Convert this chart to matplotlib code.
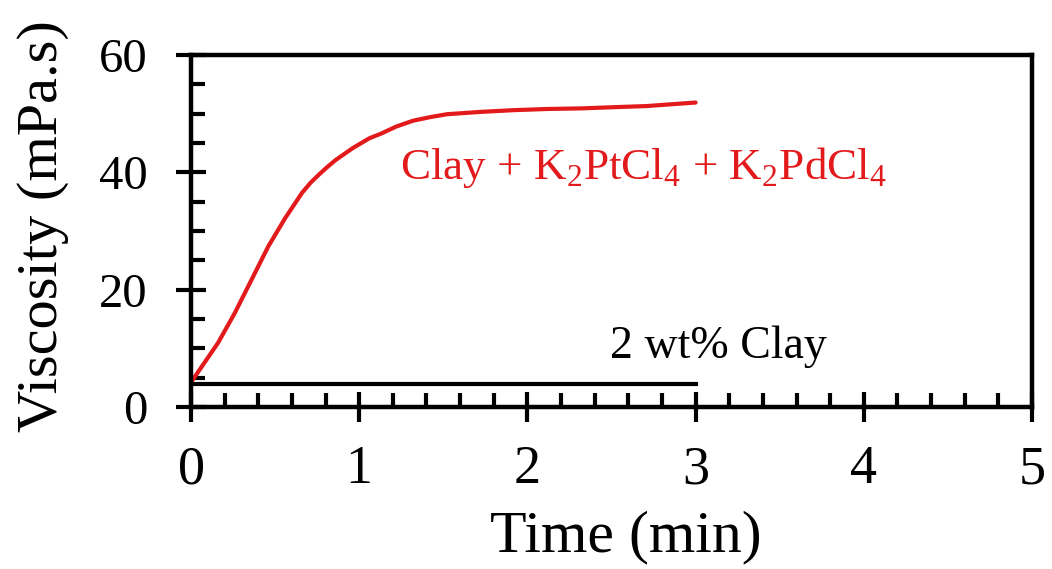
import matplotlib
matplotlib.use("Agg")
import matplotlib.pyplot as plt
from matplotlib.ticker import MultipleLocator

# red curve: clay + K2PtCl4 + K2PdCl4
time_mix = [0.0, 0.16, 0.26, 0.36, 0.46, 0.56, 0.66, 0.71, 0.76, 0.81, 0.86,
            0.96, 1.06, 1.13, 1.22, 1.32, 1.42, 1.52, 1.72, 1.92, 2.12, 2.32,
            2.51, 2.71, 3.0]
visc_mix = [4.2, 10.9, 16.0, 21.7, 27.4, 32.2, 36.5, 38.2, 39.6, 40.9, 42.1,
            44.1, 45.8, 46.6, 47.8, 48.8, 49.4, 49.9, 50.3, 50.6, 50.8, 50.9,
            51.1, 51.3, 51.9]

# black line: 2 wt% clay
time_clay = [0, 3]
visc_clay = [4, 4]

plt.rcParams["font.family"] = ["Liberation Serif", "DejaVu Serif"]
plt.rcParams["mathtext.fontset"] = "custom"
plt.rcParams["mathtext.rm"] = "Liberation Serif"

fig = plt.figure(figsize=(10.52, 5.69), dpi=100)
ax = fig.add_axes([191 / 1052, 1 - 407 / 569, (1032 - 191) / 1052, (407 - 55) / 569])

ax.plot(time_mix, visc_mix, color="#e31a1c", lw=3.0, solid_capstyle="round",
        solid_joinstyle="round")
ax.plot(time_clay, visc_clay, color="black", lw=3.0)

ax.set_xlim(0, 5)
ax.set_ylim(0, 60)
ax.xaxis.set_major_locator(MultipleLocator(1))
ax.xaxis.set_minor_locator(MultipleLocator(0.2))
ax.yaxis.set_major_locator(MultipleLocator(20))
ax.yaxis.set_minor_locator(MultipleLocator(5))
ax.tick_params(which="major", direction="inout", length=22, width=3.0)
ax.tick_params(which="minor", direction="in", length=10, width=3.0)
ax.tick_params(axis="x", which="major", labelsize=39, pad=16)
ax.tick_params(axis="y", which="major", labelsize=35, pad=20)
for s in ax.spines.values():
    s.set_linewidth(3.2)

fig.text(626 / 1052, 1 - 537 / 569, "Time (min)", fontsize=43,
         ha="center", va="center")
fig.text(43 / 1052, 1 - 226 / 569, "Viscosity (mPa.s)", fontsize=42,
         rotation=90, ha="center", va="center")

ax.text(1.24, 38.8, r"Clay + K$_2$PtCl$_4$ + K$_2$PdCl$_4$", color="#e31a1c",
        fontsize=32.5, va="baseline", ha="left")
ax.text(2.49, 8.4, "2 wt% Clay", color="black", fontsize=33,
        va="baseline", ha="left")

fig.savefig("out.png", dpi=100)
